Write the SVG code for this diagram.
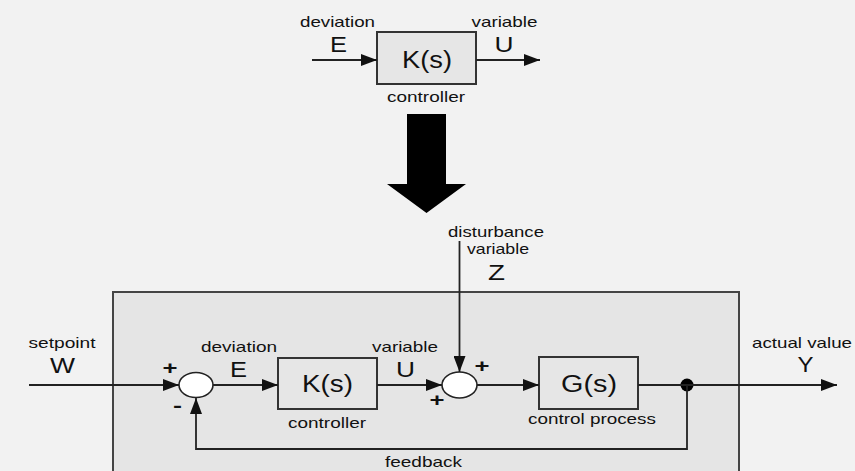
<svg xmlns="http://www.w3.org/2000/svg" width="855" height="471" viewBox="0 0 855 471">
<defs>
<style>
.bg{fill:#f2f2f2}
.blk{fill:#e6e6e6;stroke:#333;stroke-width:2}
.frame{fill:#e5e5e5;stroke:#444;stroke-width:2}
.sum{fill:#fff;stroke:#222;stroke-width:1.6}
.ln{fill:none;stroke:#222;stroke-width:1.8}
text{font-family:"Liberation Sans",Arial,sans-serif;fill:#111;text-anchor:middle}
.s{font-size:15px}
.l{font-size:22px}
.b{font-size:23px}
.sg{font-size:18px;font-weight:bold}
</style>
<marker id="ah" markerUnits="userSpaceOnUse" markerWidth="16" markerHeight="12" refX="16" refY="6" orient="auto">
<path d="M0,0 L16,6 L0,12 z" fill="#111"/>
</marker>
</defs>
<rect class="bg" x="0" y="0" width="855" height="471"/>

<g id="top-controller">
<rect class="blk" x="377" y="32" width="99" height="52"/>
<text class="b" x="427" y="68" textLength="50" lengthAdjust="spacingAndGlyphs">K(s)</text>
<text class="s" x="426" y="102" textLength="78" lengthAdjust="spacingAndGlyphs">controller</text>
</g>
<g id="top-labels">
<text class="s" x="337.5" y="27" textLength="75" lengthAdjust="spacingAndGlyphs">deviation</text>
<text class="l" x="338.5" y="52" textLength="17" lengthAdjust="spacingAndGlyphs">E</text>
<text class="s" x="504.5" y="27" textLength="66" lengthAdjust="spacingAndGlyphs">variable</text>
<text class="l" x="504" y="52" textLength="19" lengthAdjust="spacingAndGlyphs">U</text>
</g>

<g id="big-arrow">
<path d="M407,114 L446,114 L446,184 L466,184 L426.5,213 L387,184 L407,184 z" fill="#000"/>
</g>

<g id="loop-frame">
<rect class="frame" x="113" y="292" width="626" height="200"/>
</g>

<g id="sum1">
<ellipse class="sum" cx="196" cy="385" rx="17" ry="12.5"/>
<text class="sg" x="170" y="373.5" textLength="15" lengthAdjust="spacingAndGlyphs">+</text>
<text class="sg" x="177.5" y="412" textLength="9" lengthAdjust="spacingAndGlyphs">-</text>
</g>

<g id="controller">
<rect class="blk" x="278" y="358" width="99" height="51"/>
<text class="b" x="327.5" y="392" textLength="51" lengthAdjust="spacingAndGlyphs">K(s)</text>
<text class="s" x="327" y="428" textLength="78" lengthAdjust="spacingAndGlyphs">controller</text>
</g>

<g id="sum2">
<ellipse class="sum" cx="459.5" cy="385" rx="17.5" ry="13"/>
<text class="sg" x="482" y="371.5" textLength="15" lengthAdjust="spacingAndGlyphs">+</text>
<text class="sg" x="437" y="406" textLength="15" lengthAdjust="spacingAndGlyphs">+</text>
</g>

<g id="process">
<rect class="blk" x="539" y="357" width="99" height="52"/>
<text class="b" x="589" y="392" textLength="56" lengthAdjust="spacingAndGlyphs">G(s)</text>
<text class="s" x="592" y="424" textLength="128" lengthAdjust="spacingAndGlyphs">control process</text>
</g>

<g id="branch-point">
<circle cx="687" cy="385" r="6.5" fill="#000"/>
</g>

<g id="labels">
<text class="s" x="62" y="348" textLength="67" lengthAdjust="spacingAndGlyphs">setpoint</text>
<text class="l" x="62.5" y="373" textLength="25" lengthAdjust="spacingAndGlyphs">W</text>
<text class="s" x="239" y="352" textLength="76" lengthAdjust="spacingAndGlyphs">deviation</text>
<text class="l" x="238.5" y="377" textLength="17" lengthAdjust="spacingAndGlyphs">E</text>
<text class="s" x="405" y="352" textLength="66" lengthAdjust="spacingAndGlyphs">variable</text>
<text class="l" x="405.5" y="377" textLength="19" lengthAdjust="spacingAndGlyphs">U</text>
<text class="s" x="496" y="237" textLength="96" lengthAdjust="spacingAndGlyphs">disturbance</text>
<text class="s" x="498" y="254" textLength="62" lengthAdjust="spacingAndGlyphs">variable</text>
<text class="l" x="496.5" y="280" textLength="17" lengthAdjust="spacingAndGlyphs">Z</text>
<text class="s" x="802" y="348" textLength="100" lengthAdjust="spacingAndGlyphs">actual value</text>
<text class="l" x="805.5" y="372" textLength="16" lengthAdjust="spacingAndGlyphs">Y</text>
<text class="s" x="423.5" y="467" textLength="77" lengthAdjust="spacingAndGlyphs">feedback</text>
</g>

<g id="connectors">
<line class="ln" x1="312" y1="60" x2="377" y2="60" marker-end="url(#ah)"/>
<line class="ln" x1="476" y1="60" x2="540" y2="60" marker-end="url(#ah)"/>
<line class="ln" x1="29" y1="385" x2="179" y2="385" marker-end="url(#ah)"/>
<line class="ln" x1="213" y1="385" x2="278" y2="385" marker-end="url(#ah)"/>
<line class="ln" x1="377" y1="385" x2="442" y2="385" marker-end="url(#ah)"/>
<line class="ln" x1="459.5" y1="241" x2="459.5" y2="372" marker-end="url(#ah)"/>
<line class="ln" x1="477" y1="385" x2="539" y2="385" marker-end="url(#ah)"/>
<line class="ln" x1="638" y1="385" x2="837" y2="385" marker-end="url(#ah)"/>
<polyline class="ln" points="687,385 687,449 196,449 196,398" marker-end="url(#ah)"/>
</g>
</svg>
